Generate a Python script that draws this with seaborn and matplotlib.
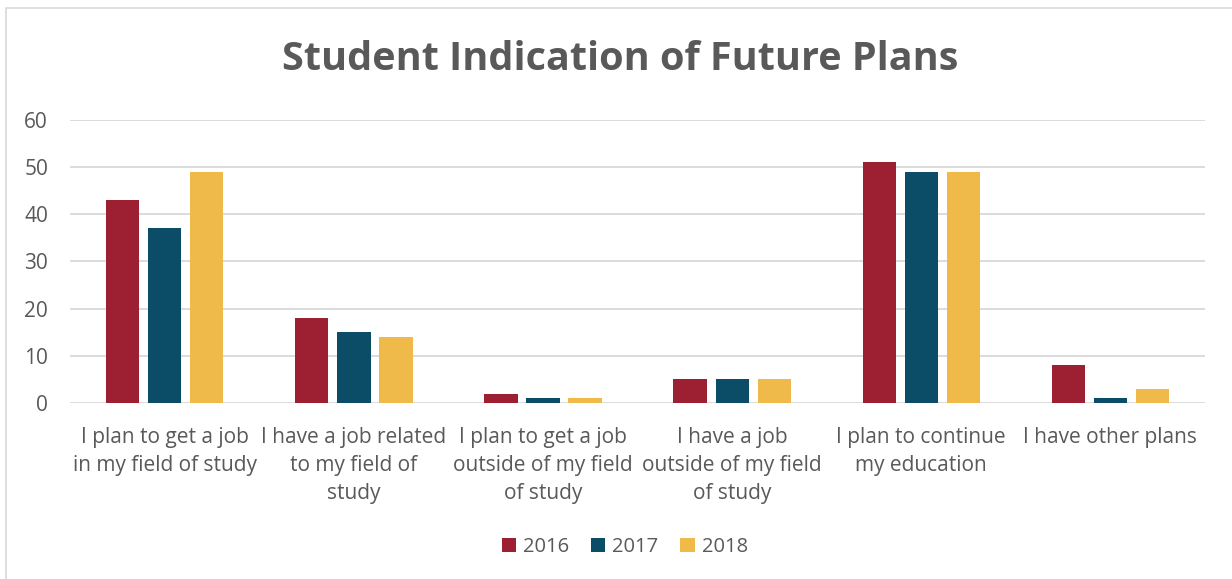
import matplotlib
matplotlib.use("Agg")
import matplotlib.pyplot as plt
import seaborn as sns
import pandas as pd
from matplotlib.patches import Rectangle

categories = [
    "I plan to get a job\nin my field of study",
    "I have a job related\nto my field of\nstudy",
    "I plan to get a job\noutside of my field\nof study",
    "I have a job\noutside of my field\nof study",
    "I plan to continue\nmy education",
    "I have other plans",
]
years = ["2016", "2017", "2018"]
values_2016 = [43, 18, 2, 5, 51, 8]
values_2017 = [37, 15, 1, 5, 49, 1]
values_2018 = [49, 14, 1, 5, 49, 3]
colors = ["#9C2032", "#0B4C67", "#F0BA4B"]

rows = []
for year, vals in zip(years, [values_2016, values_2017, values_2018]):
    for cat, v in zip(categories, vals):
        rows.append({"category": cat, "year": year, "value": v})
df = pd.DataFrame(rows)

sns.set_theme(style="white")
plt.rcParams["font.family"] = ["Open Sans", "DejaVu Sans"]
text_color = "#595959"

fig = plt.figure(figsize=(12.32, 5.79), dpi=100)
ax = fig.add_axes([0.057, 0.304, 0.921, 0.489])

sns.barplot(data=df, x="category", y="value", hue="year", palette=colors,
            width=0.667, gap=0.21, ax=ax, saturation=1, legend=True,
            linewidth=0)

ax.set_ylim(0, 60)
ax.set_xlim(-0.5, 5.5)
ax.set_yticks(range(0, 61, 10))
ax.yaxis.grid(True, color="#D9D9D9", linewidth=1.3)
ax.set_axisbelow(True)
for s in ax.spines.values():
    s.set_visible(False)
ax.set_xlabel("")
ax.set_ylabel("")
ax.tick_params(axis="y", colors=text_color, labelsize=15, length=0, pad=16)
ax.tick_params(axis="x", colors=text_color, labelsize=15, length=0, pad=17)
for lbl in ax.get_xticklabels():
    lbl.set_linespacing(1.45)

handles, labels = ax.get_legend_handles_labels()
ax.legend_.remove()
fig.legend(handles, labels, loc="center", bbox_to_anchor=(0.507, 0.055),
           ncol=3, frameon=False, fontsize=14.5, labelcolor=text_color,
           handlelength=0.7, handleheight=0.7, handletextpad=0.35,
           columnspacing=1.1)

fig.text(0.503, 0.897, "Student Indication of Future Plans", ha="center",
         va="center", fontsize=28.5, fontweight="bold", color=text_color)

# chart frame
fig.patches.append(Rectangle((0.005, -0.05), 1.2, 1.036, transform=fig.transFigure,
                             fill=False, edgecolor="#D9D9D9", linewidth=1.2))

fig.savefig("out.png", dpi=100)
